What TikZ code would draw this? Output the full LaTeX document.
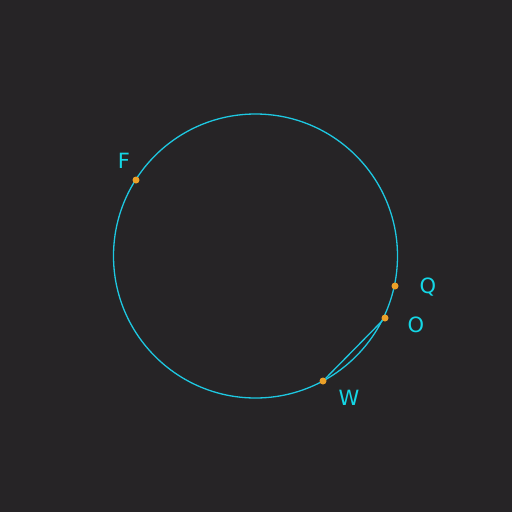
\documentclass[tikz,border=0pt]{standalone}
\usepackage{fontspec}
\setsansfont{DejaVu Sans}
\begin{document}
\begin{tikzpicture}[x=1pt,y=-1pt,
  curve/.style={draw=cyanline,line width=1.3pt},
  pt/.style={circle,fill=ptorange,inner sep=0pt,minimum size=7pt},
  lbl/.style={text=cyanlbl,font=\fontsize{21}{24}\sffamily,inner sep=0pt}]
\definecolor{bg}{RGB}{38,36,38}
\definecolor{cyanline}{RGB}{30,200,225}
\definecolor{cyanlbl}{RGB}{20,215,230}
\definecolor{ptorange}{RGB}{235,160,40}
\fill[bg] (0,0) rectangle (512,512);
\useasboundingbox (0,0) rectangle (512,512);
\coordinate (C) at (255.5,256);
\draw[curve] (C) circle[radius=142];
\node[pt] (F) at (136,180) {};
\node[pt] (Q) at (395,286) {};
\node[pt] (O) at (385,318) {};
\node[pt] (W) at (323,381) {};
\draw[curve] (W) -- (O);
\node[lbl] (lF) at (124,161) {F};
\node[lbl] (lQ) at (428,287) {Q};
\node[lbl] (lO) at (416,325) {O};
\node[lbl] (lW) at (349,398) {W};
\end{tikzpicture}
\end{document}
